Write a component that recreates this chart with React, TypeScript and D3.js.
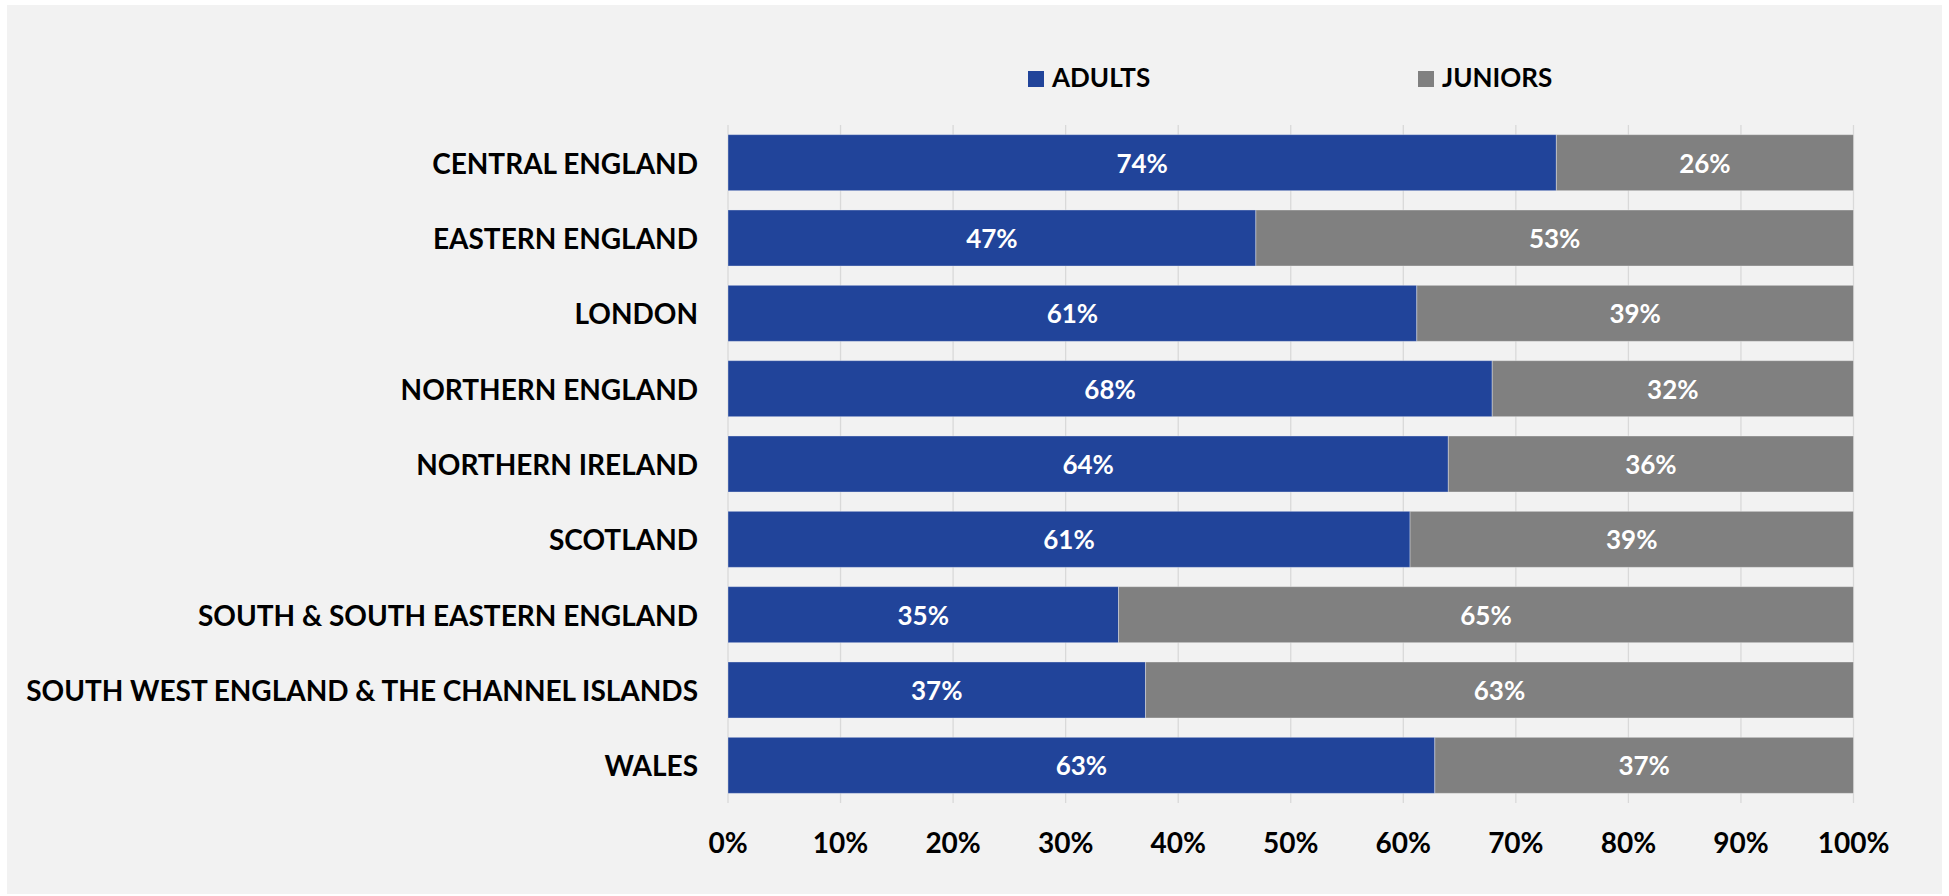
import React from "react";
import * as d3 from "d3";

// Share of members by age group in each region (percent)
const regions = [
  "CENTRAL ENGLAND",
  "EASTERN ENGLAND",
  "LONDON",
  "NORTHERN ENGLAND",
  "NORTHERN IRELAND",
  "SCOTLAND",
  "SOUTH & SOUTH EASTERN ENGLAND",
  "SOUTH WEST ENGLAND & THE CHANNEL ISLANDS",
  "WALES",
];
const adults = [73.6, 46.9, 61.2, 67.9, 64.0, 60.6, 34.7, 37.1, 62.8];
const juniors = [26.4, 53.1, 38.8, 32.1, 36.0, 39.4, 65.3, 62.9, 37.2];
const seriesNames = ["ADULTS", "JUNIORS"];
const xTicks = [0, 10, 20, 30, 40, 50, 60, 70, 80, 90, 100];

const W = 1949;
const H = 896;
const BLUE = "#21449a";
const GREY = "#808080";
const FONT = "Lato, 'Open Sans', sans-serif";

export default function App() {
  const x = d3.scaleLinear().domain([0, 100]).range([728, 1853.5]);
  const y = d3
    .scaleBand<string>()
    .domain(regions)
    .range([125, 803])
    .paddingInner(0.256)
    .paddingOuter(0.128);
  const colour = d3.scaleOrdinal<string, string>().domain(seriesNames).range([BLUE, GREY]);
  const pct = d3.format(".0f");

  const rows = regions.map((r, i) => ({ region: r, ADULTS: adults[i], JUNIORS: juniors[i] }));
  const stacked = d3.stack<any>().keys(seriesNames)(rows);

  const bw = y.bandwidth();
  const legendX = [1028, 1418];

  return (
    <svg
      width={W}
      height={H}
      style={{ position: "absolute", left: 0, top: 0, display: "block", background: "#ffffff" }}
      fontFamily={FONT}
    >
      <rect x={7} y={5} width={1935} height={889} fill="#f2f2f2" />

      {/* vertical gridlines */}
      {xTicks.map((t) => (
        <line
          key={"g" + t}
          x1={x(t)}
          x2={x(t)}
          y1={125}
          y2={803}
          stroke="#d9d9d9"
          strokeWidth={1.3}
        />
      ))}

      {/* stacked bars */}
      {stacked.map((layer) => (
        <g key={layer.key} fill={colour(layer.key)}>
          {layer.map((d, i) => (
            <rect
              key={i}
              x={x(d[0])}
              y={y(regions[i])}
              width={x(d[1]) - x(d[0])}
              height={bw}
              stroke="#ffffff"
              strokeOpacity={0.35}
              strokeWidth={1}
            />
          ))}
        </g>
      ))}

      {/* values inside the segments */}
      {stacked.map((layer) => (
        <g key={"l" + layer.key}>
          {layer.map((d, i) => (
            <text
              key={i}
              x={(x(d[0]) + x(d[1])) / 2}
              y={(y(regions[i]) as number) + bw / 2}
              textAnchor="middle"
              dominantBaseline="central"
              fill="#ffffff"
              fontSize={26}
              fontWeight={700}
            >
              {pct(d[1] - d[0]) + "%"}
            </text>
          ))}
        </g>
      ))}

      {/* category labels */}
      {regions.map((r) => (
        <text
          key={r}
          x={698}
          y={(y(r) as number) + bw / 2}
          textAnchor="end"
          dominantBaseline="central"
          fill="#000000"
          fontSize={28}
          fontWeight={700}
        >
          {r}
        </text>
      ))}

      {/* x axis tick labels */}
      {xTicks.map((t) => (
        <text
          key={"t" + t}
          x={x(t)}
          y={842}
          textAnchor="middle"
          dominantBaseline="central"
          fill="#000000"
          fontSize={28}
          fontWeight={700}
        >
          {t + "%"}
        </text>
      ))}

      {/* legend */}
      {seriesNames.map((s, i) => {
        const lx = legendX[i];
        return (
          <g key={"leg" + s}>
            <rect x={lx} y={71} width={16} height={16} fill={colour(s)} />
            <text
              x={lx + 24}
              y={87}
              fill="#000000"
              fontSize={26}
              fontWeight={700}
            >
              {s}
            </text>
          </g>
        );
      })}
    </svg>
  );
}
